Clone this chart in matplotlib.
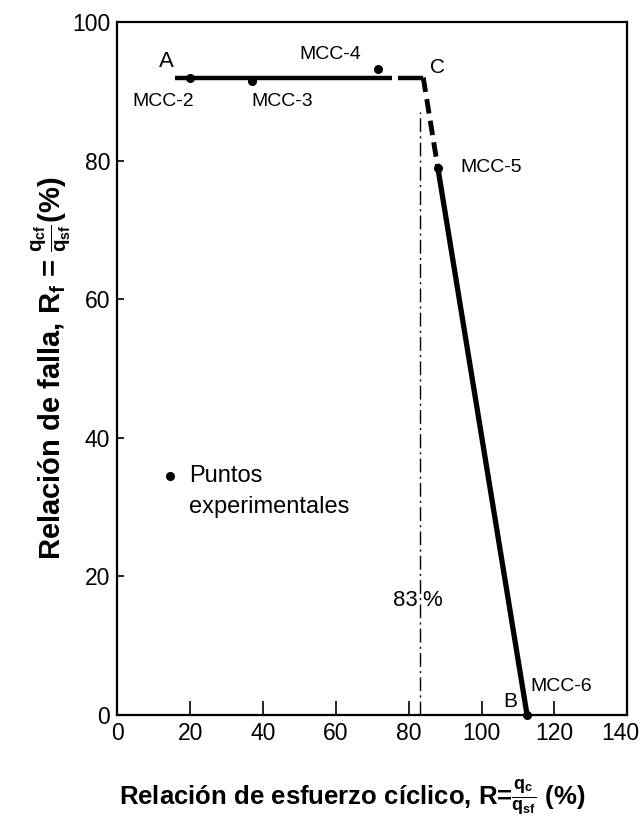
import matplotlib.pyplot as plt
from matplotlib.transforms import ScaledTranslation

plt.rcParams['font.family'] = ['Liberation Sans', 'DejaVu Sans']
plt.rcParams['mathtext.fontset'] = 'custom'
plt.rcParams['mathtext.rm'] = 'Liberation Sans:bold'
plt.rcParams['mathtext.it'] = 'Liberation Sans:bold'
plt.rcParams['mathtext.bf'] = 'Liberation Sans:bold'

# failure envelope A -> C -> B
env_x = [16, 84, 112.5]
env_y = [92, 92, 0]
# point on the falling branch where the dashed part ends
knee_x, knee_y = 88, 79

# experimental points
test_names = ['MCC-2', 'MCC-3', 'MCC-4', 'MCC-5', 'MCC-6']
test_x = [20, 37, 71.5, 88, 112.5]
test_y = [92, 91.5, 93.2, 79, 0]

r_limit = 83
x_ticks = [0, 20, 40, 60, 80, 100, 120, 140]
y_ticks = [0, 20, 40, 60, 80, 100]

fig = plt.figure(figsize=(6.44, 8.18), dpi=100)
ax = fig.add_axes([0.182, 0.126, 0.792, 0.847])

# horizontal branch (with a small break near C)
ax.plot([env_x[0], 75.5], [env_y[0], env_y[1]], color='black', lw=3.2, solid_capstyle='butt')
ax.plot([77, env_x[1]], [env_y[0], env_y[1]], color='black', lw=3.2, solid_capstyle='butt')
# falling branch: dashed from C to MCC-5, solid to B
ax.plot([env_x[1], knee_x], [env_y[1], knee_y], color='black', lw=3.5,
        linestyle=(0, (3, 1.5)))
ax.plot([knee_x, env_x[2]], [knee_y, env_y[2]], color='black', lw=3.8, solid_capstyle='butt')

# 83 % limit
ax.plot([r_limit, r_limit], [0, 87], color='black', lw=1.0, linestyle=(0, (10, 3, 1.5, 3)))
ax.text(r_limit - 0.6, 16.5, '83', ha='right', va='center', fontsize=16)
ax.text(r_limit + 0.8, 16.5, '%', ha='left', va='center', fontsize=16)

ax.plot(test_x, test_y, 'o', color='black', ms=5.5, clip_on=False, zorder=5)

label_pos = {
    'MCC-2': (12.6, 88.5, 'center'),
    'MCC-3': (45.4, 88.5, 'center'),
    'MCC-4': (58.5, 95.3, 'center'),
    'MCC-5': (94.2, 79.0, 'left'),
    'MCC-6': (113.5, 4.1, 'left'),
}
for name in test_names:
    lx, ly, ha = label_pos[name]
    ax.text(lx, ly, name, ha=ha, va='center', fontsize=14)

ax.text(13.6, 94.3, 'A', ha='center', va='center', fontsize=16)
ax.text(87.8, 93.4, 'C', ha='center', va='center', fontsize=15)
ax.text(107.9, 2.0, 'B', ha='center', va='center', fontsize=15)

# legend drawn by hand
ax.plot([14.6], [34.5], 'o', color='black', ms=5.5)
ax.text(19.8, 34.5, 'Puntos', ha='left', va='center', fontsize=17)
ax.text(19.8, 30.0, 'experimentales', ha='left', va='center', fontsize=17)

ax.set_xlim(0, 140)
ax.set_ylim(0, 100)
ax.set_xticks(x_ticks)
ax.set_yticks(y_ticks)
ax.tick_params(axis='x', direction='in', length=10, width=1.2, labelsize=16.5, pad=5)
ax.tick_params(axis='y', direction='in', length=5, width=1.2, labelsize=16.5, pad=5)
for sp in ax.spines.values():
    sp.set_linewidth(1.6)

# pull the last x tick label inside the figure edge
last = ax.get_xticklabels()[-1]
last.set_transform(last.get_transform() + ScaledTranslation(-0.07, 0, fig.dpi_scale_trans))

ax.set_xlabel(r'Relación de esfuerzo cíclico, R=$\frac{q_c}{q_{sf}}$ (%)',
              fontsize=18.5, fontweight='bold', labelpad=24)
ax.xaxis.label.set_x(0.46)
ax.set_ylabel(r'Relación de falla, R$_f$ = $\frac{q_{cf}}{q_{sf}}$(%)',
              fontsize=21, fontweight='bold', labelpad=-1)

fig.savefig('out.png', dpi=100)
